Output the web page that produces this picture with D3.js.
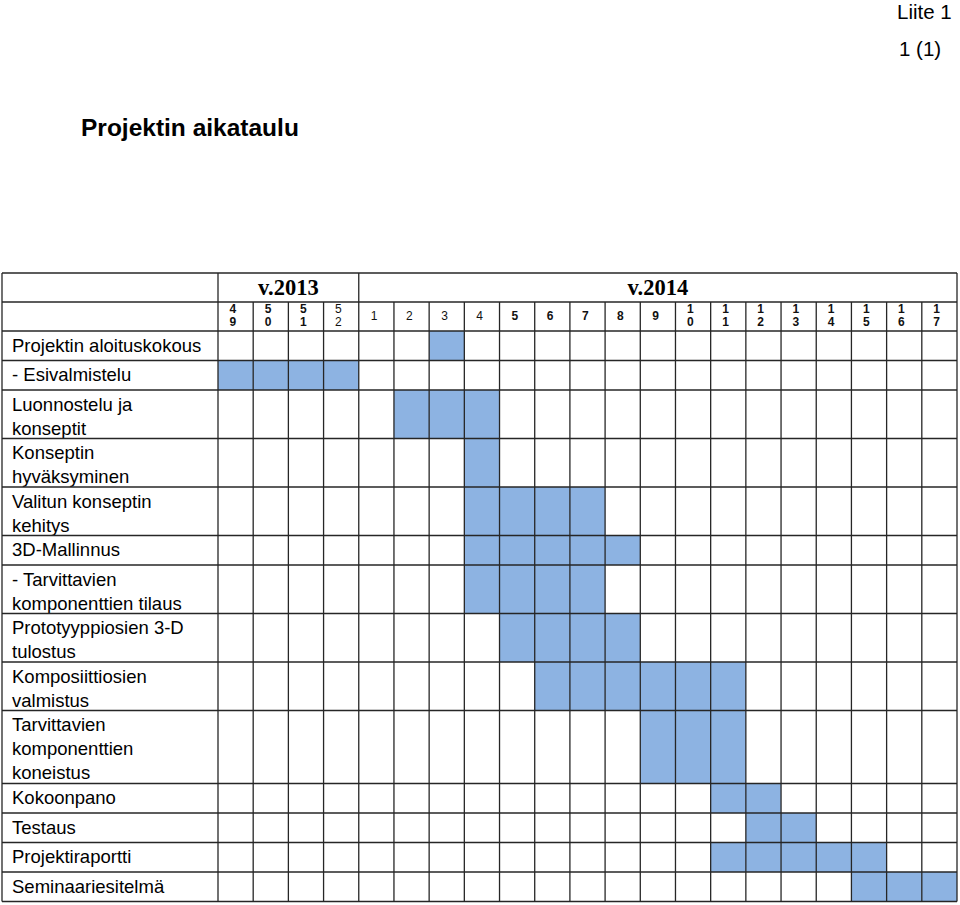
<!DOCTYPE html>
<html>
<head>
<meta charset="utf-8">
<script src="https://cdn.jsdelivr.net/npm/d3@7"></script>
<style>
  html, body { margin: 0; padding: 0; background: #fff; }
  svg { display: block; }
  text { font-family: "Liberation Sans", Arial, sans-serif; fill: #000; }
</style>
</head>
<body>
<svg id="chart" width="960" height="905"></svg>
<script>
// ---------- data ----------
const years = ["v.2013", "v.2014"];
const yearSpans = [4, 17];
const weeks = ["49","50","51","52","1","2","3","4","5","6","7","8","9","10","11","12","13","14","15","16","17"];
const tasks = [
  "Projektin aloituskokous",
  "- Esivalmistelu",
  "Luonnostelu ja|konseptit",
  "Konseptin|hyväksyminen",
  "Valitun konseptin|kehitys",
  "3D-Mallinnus",
  "- Tarvittavien|komponenttien tilaus",
  "Prototyyppiosien 3-D|tulostus",
  "Komposiittiosien|valmistus",
  "Tarvittavien|komponenttien|koneistus",
  "Kokoonpano",
  "Testaus",
  "Projektiraportti",
  "Seminaariesitelmä"
];
const startWeek = ["3","49","2","4","4","4","4","5","6","9","11","12","11","15"];
const endWeek   = ["3","52","4","4","7","8","7","8","11","11","12","13","15","17"];
const titleText = "Projektin aikataulu";
const cornerTexts = ["Liite 1", "1 (1)"];

// ---------- layout ----------
const svg = d3.select("#chart");
const tableLeft = 2, labelRight = 218, tableRight = 957;
const headTop = 273, head1 = 29, head2 = 29;
const bodyTop = headTop + head1 + head2;
const lineColor = "#262626", lw = 1.3;
const fillColor = "#8db3e2";

const x = d3.scaleBand().domain(weeks).range([labelRight, tableRight]).padding(0);

const rows = tasks.map(t => t.split("|"));
const heights = rows.map(l => l.length === 1 ? 29.5 : l.length === 2 ? 48.5 : 73);
const tops = [];
heights.reduce((acc, h, i) => { tops[i] = acc; return acc + h; }, bodyTop);
const bodyBottom = tops[tops.length - 1] + heights[heights.length - 1];

// title & corner texts
svg.append("text").attr("x", 897).attr("y", 18.5).attr("font-size", 20.5).text(cornerTexts[0]);
svg.append("text").attr("x", 899).attr("y", 56).attr("font-size", 20.5).text(cornerTexts[1]);
svg.append("text").attr("x", 81).attr("y", 136).attr("font-size", 24.5).attr("font-weight", "bold").text(titleText);

// filled cells
const g = svg.append("g");
tasks.forEach((t, i) => {
  const s = weeks.indexOf(startWeek[i]), e = weeks.indexOf(endWeek[i]);
  const cells = weeks.slice(s, e + 1);
  g.selectAll(null).data(cells).enter().append("rect")
    .attr("x", d => x(d))
    .attr("y", tops[i])
    .attr("width", x.bandwidth())
    .attr("height", heights[i])
    .attr("fill", fillColor);
});

// labels
rows.forEach((lines, i) => {
  const t = svg.append("text").attr("font-size", 18.5);
  lines.forEach((ln, j) => {
    t.append("tspan").attr("x", 12).attr("y", tops[i] + 20.5 + j * 24).text(ln);
  });
});

// year header
let acc = 0;
const yearBounds = yearSpans.map(s => { const a = acc; acc += s; return [a, acc]; });
years.forEach((yr, i) => {
  const x0 = x(weeks[yearBounds[i][0]]);
  const x1 = yearBounds[i][1] < weeks.length ? x(weeks[yearBounds[i][1]]) : tableRight;
  svg.append("text")
    .attr("x", (x0 + x1) / 2).attr("y", headTop + 22)
    .attr("text-anchor", "middle")
    .style("font-family", "'Liberation Serif', 'Times New Roman', serif")
    .attr("font-size", 22.5).attr("font-weight", "bold")
    .text(yr);
});

// week header
const lightWeeks = new Set(["52", "1", "2", "3", "4"]);
weeks.forEach(w => {
  const t = svg.append("text").attr("font-size", 12)
    .attr("font-weight", lightWeeks.has(w) ? "normal" : "bold")
    .style("fill", "#111");
  if (w.length === 2) {
    t.append("tspan").attr("x", x(w) + 11.5).attr("y", headTop + head1 + 10.5).text(w[0]);
    t.append("tspan").attr("x", x(w) + 11.5).attr("y", headTop + head1 + 24).text(w[1]);
  } else {
    t.append("tspan").attr("x", x(w) + 12).attr("y", headTop + head1 + 17.5).text(w);
  }
});

// grid lines
const grid = svg.append("g").attr("stroke", lineColor).attr("stroke-width", lw).attr("fill", "none");
const hLines = [headTop, headTop + head1, bodyTop, ...tops.map((t, i) => t + heights[i])];
hLines.forEach(yv => grid.append("line").attr("x1", tableLeft).attr("x2", tableRight).attr("y1", yv).attr("y2", yv));
// outer verticals
grid.append("line").attr("x1", tableLeft).attr("x2", tableLeft).attr("y1", headTop).attr("y2", bodyBottom);
grid.append("line").attr("x1", tableRight).attr("x2", tableRight).attr("y1", headTop).attr("y2", bodyBottom);
grid.append("line").attr("x1", labelRight).attr("x2", labelRight).attr("y1", headTop).attr("y2", bodyBottom);
// year divider
yearBounds.slice(1).forEach(b => {
  const xv = x(weeks[b[0]]);
  grid.append("line").attr("x1", xv).attr("x2", xv).attr("y1", headTop).attr("y2", headTop + head1);
});
// week column verticals
weeks.slice(1).forEach(w => {
  grid.append("line").attr("x1", x(w)).attr("x2", x(w)).attr("y1", headTop + head1).attr("y2", bodyBottom);
});
</script>
</body>
</html>
